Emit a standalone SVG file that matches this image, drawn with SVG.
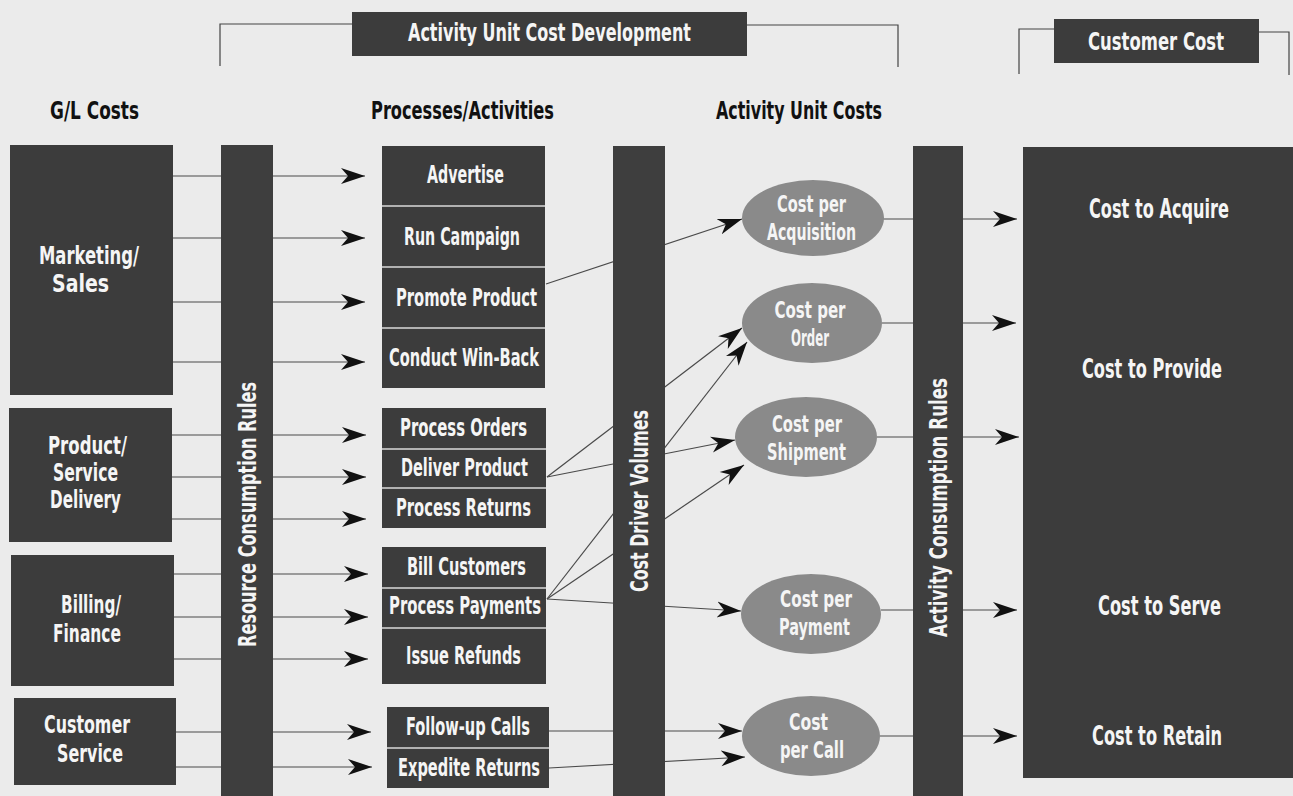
<svg xmlns="http://www.w3.org/2000/svg" width="1293" height="796" viewBox="0 0 1293 796">
<defs>
<style>
.bg{fill:#ebebeb}
.box{fill:#3c3c3c}
.bar{fill:#3e3e3e}
.ell{fill:#8a8a8a}
.sep{stroke:#d8d8d8;stroke-width:1.6}
.t{font-family:"Liberation Sans Narrow","DejaVu Sans Condensed","Liberation Sans",Arial,sans-serif;font-weight:bold;fill:#f5f5f5;text-anchor:middle}
.h{font-family:"Liberation Sans Narrow","DejaVu Sans Condensed","Liberation Sans",Arial,sans-serif;font-weight:bold;fill:#111;text-anchor:middle;font-size:24px}
.p{font-size:24px}
.c{font-size:26px}
.e{font-size:23px}
.ar{stroke:#4a4a4a;stroke-width:1.2;fill:none;marker-end:url(#ah)}
.br{stroke:#444;stroke-width:1.2;fill:none}
</style>
<marker id="ah" markerUnits="userSpaceOnUse" markerWidth="26" markerHeight="18" refX="24" refY="9" orient="auto" viewBox="0 0 26 18">
<path d="M0,1 L24,9 L0,17 L7,9 Z" fill="#111"/>
</marker>
</defs>
<rect class="bg" x="0" y="0" width="1293" height="796"/>

<g id="connectors">
<path class="ar" d="M173,176 H365"/>
<path class="ar" d="M173,238 H365"/>
<path class="ar" d="M173,302 H365"/>
<path class="ar" d="M173,362 H365"/>
<path class="ar" d="M172,435 H366"/>
<path class="ar" d="M172,477 H366"/>
<path class="ar" d="M172,519 H366"/>
<path class="ar" d="M174,574 H368"/>
<path class="ar" d="M174,617 H368"/>
<path class="ar" d="M174,659 H368"/>
<path class="ar" d="M176,732 H371"/>
<path class="ar" d="M176,767 H372"/>
<path class="ar" d="M546,284 L742,219"/>
<path class="ar" d="M547,477 L742,328"/>
<path class="ar" d="M547,477 L735,440"/>
<path class="ar" d="M547,599 L747,342"/>
<path class="ar" d="M547,599 L744,465"/>
<path class="ar" d="M547,599 L741,611"/>
<path class="ar" d="M549,731 L742,731"/>
<path class="ar" d="M549,768 L745,757"/>
<path class="ar" d="M883,219 H1017"/>
<path class="ar" d="M882,323 H1016"/>
<path class="ar" d="M877,437 H1019"/>
<path class="ar" d="M881,610 H1017"/>
<path class="ar" d="M880,736 H1017"/>
</g>

<g id="brackets">
<path class="br" d="M220,66 V24 H352"/>
<path class="br" d="M747,25 H898 V67"/>
<path class="br" d="M1019,74 V29 H1054"/>
<path class="br" d="M1259,32 H1289 V75"/>
</g>

<g id="banner-activity">
<rect class="box" x="352" y="12" width="395" height="44"/>
<text class="t" x="549.5" y="41" font-size="25" textLength="283" lengthAdjust="spacingAndGlyphs">Activity Unit Cost Development</text>
</g>
<g id="banner-customer">
<rect class="box" x="1054" y="19" width="205" height="44"/>
<text class="t" x="1156" y="50" font-size="25" textLength="136" lengthAdjust="spacingAndGlyphs">Customer Cost</text>
</g>

<g id="headers">
<text class="h" x="94.5" y="119" textLength="89" lengthAdjust="spacingAndGlyphs">G/L Costs</text>
<text class="h" x="462.5" y="119" textLength="183" lengthAdjust="spacingAndGlyphs">Processes/Activities</text>
<text class="h" x="799" y="119" textLength="166" lengthAdjust="spacingAndGlyphs">Activity Unit Costs</text>
</g>

<g id="gl-marketing">
<rect class="box" x="10" y="145" width="163" height="250"/>
<text class="t p" x="89" y="264" textLength="100" lengthAdjust="spacingAndGlyphs">Marketing/</text>
<text class="t p" x="80.5" y="292" textLength="57" lengthAdjust="spacingAndGlyphs">Sales</text>
</g>
<g id="gl-product">
<rect class="box" x="9" y="408" width="163" height="134"/>
<text class="t p" x="87.5" y="454" textLength="79" lengthAdjust="spacingAndGlyphs">Product/</text>
<text class="t p" x="85.5" y="481" textLength="65" lengthAdjust="spacingAndGlyphs">Service</text>
<text class="t p" x="85.5" y="508" textLength="71" lengthAdjust="spacingAndGlyphs">Delivery</text>
</g>
<g id="gl-billing">
<rect class="box" x="11" y="555" width="163" height="131"/>
<text class="t p" x="91" y="613" textLength="60" lengthAdjust="spacingAndGlyphs">Billing/</text>
<text class="t p" x="87" y="642" textLength="68" lengthAdjust="spacingAndGlyphs">Finance</text>
</g>
<g id="gl-customer-service">
<rect class="box" x="14" y="698" width="162" height="87"/>
<text class="t p" x="87" y="733" textLength="86" lengthAdjust="spacingAndGlyphs">Customer</text>
<text class="t p" x="90" y="762" textLength="66" lengthAdjust="spacingAndGlyphs">Service</text>
</g>

<g id="bar-resource">
<rect class="bar" x="221" y="145" width="52" height="651"/>
<text class="t" font-size="25" transform="translate(256 514.5) rotate(-90)" x="0" y="0" textLength="265" lengthAdjust="spacingAndGlyphs">Resource Consumption Rules</text>
</g>
<g id="bar-cost-driver">
<rect class="bar" x="613" y="146" width="52" height="650"/>
<text class="t" font-size="25" transform="translate(647.5 501) rotate(-90)" x="0" y="0" textLength="182" lengthAdjust="spacingAndGlyphs">Cost Driver Volumes</text>
</g>
<g id="bar-activity">
<rect class="bar" x="913" y="146" width="50" height="650"/>
<text class="t" font-size="25" transform="translate(946.5 507.5) rotate(-90)" x="0" y="0" textLength="259" lengthAdjust="spacingAndGlyphs">Activity Consumption Rules</text>
</g>

<g id="p-advertise"><rect class="box" x="382" y="146" width="163" height="60"/><text class="t p" x="465.5" y="183" textLength="77" lengthAdjust="spacingAndGlyphs">Advertise</text></g>
<g id="p-run-campaign"><rect class="box" x="382" y="206" width="163" height="61"/><text class="t p" x="462" y="245" textLength="116" lengthAdjust="spacingAndGlyphs">Run Campaign</text></g>
<g id="p-promote-product"><rect class="box" x="382" y="267" width="163" height="61"/><text class="t p" x="466.5" y="306" textLength="141" lengthAdjust="spacingAndGlyphs">Promote Product</text></g>
<g id="p-conduct-win-back"><rect class="box" x="382" y="328" width="163" height="60"/><text class="t p" x="464" y="366" textLength="150" lengthAdjust="spacingAndGlyphs">Conduct Win-Back</text></g>
<g id="p-process-orders"><rect class="box" x="382" y="408" width="164" height="41"/><text class="t p" x="463.5" y="436" textLength="127" lengthAdjust="spacingAndGlyphs">Process Orders</text></g>
<g id="p-deliver-product"><rect class="box" x="382" y="449" width="164" height="39"/><text class="t p" x="464.5" y="476" textLength="127" lengthAdjust="spacingAndGlyphs">Deliver Product</text></g>
<g id="p-process-returns"><rect class="box" x="382" y="488" width="164" height="40"/><text class="t p" x="463.5" y="516" textLength="135" lengthAdjust="spacingAndGlyphs">Process Returns</text></g>
<g id="p-bill-customers"><rect class="box" x="382" y="547" width="164" height="41"/><text class="t p" x="466.5" y="575" textLength="119" lengthAdjust="spacingAndGlyphs">Bill Customers</text></g>
<g id="p-process-payments"><rect class="box" x="382" y="588" width="164" height="40"/><text class="t p" x="465" y="614" textLength="152" lengthAdjust="spacingAndGlyphs">Process Payments</text></g>
<g id="p-issue-refunds"><rect class="box" x="382" y="628" width="164" height="56"/><text class="t p" x="463.5" y="664" textLength="115" lengthAdjust="spacingAndGlyphs">Issue Refunds</text></g>
<g id="p-follow-up-calls"><rect class="box" x="387" y="707" width="162" height="41"/><text class="t p" x="468" y="735" textLength="124" lengthAdjust="spacingAndGlyphs">Follow-up Calls</text></g>
<g id="p-expedite-returns"><rect class="box" x="387" y="748" width="162" height="40"/><text class="t p" x="469" y="776" textLength="142" lengthAdjust="spacingAndGlyphs">Expedite Returns</text></g>

<g id="separators">
<path class="sep" d="M382,206 H545 M382,267 H545 M382,328 H545 M382,449 H546 M382,488 H546 M382,588 H546 M382,628 H546 M387,748 H549 M1023,267 H1293 M1023,516 H1293 M1023,703 H1293"/>
</g>

<g id="u-acquisition"><ellipse class="ell" cx="813" cy="218" rx="71" ry="38"/><text class="t e" x="811.5" y="212" textLength="69" lengthAdjust="spacingAndGlyphs">Cost per</text><text class="t e" x="811.5" y="240" textLength="89" lengthAdjust="spacingAndGlyphs">Acquisition</text></g>
<g id="u-order"><ellipse class="ell" cx="812" cy="323" rx="70" ry="40"/><text class="t e" x="810" y="318" textLength="71" lengthAdjust="spacingAndGlyphs">Cost per</text><text class="t e" x="810" y="346" textLength="38" lengthAdjust="spacingAndGlyphs">Order</text></g>
<g id="u-shipment"><ellipse class="ell" cx="806" cy="437" rx="71" ry="40"/><text class="t e" x="807" y="432" textLength="70" lengthAdjust="spacingAndGlyphs">Cost per</text><text class="t e" x="806.5" y="460" textLength="79" lengthAdjust="spacingAndGlyphs">Shipment</text></g>
<g id="u-payment"><ellipse class="ell" cx="811" cy="614" rx="70" ry="40"/><text class="t e" x="816" y="607" textLength="72" lengthAdjust="spacingAndGlyphs">Cost per</text><text class="t e" x="814.5" y="635" textLength="71" lengthAdjust="spacingAndGlyphs">Payment</text></g>
<g id="u-call"><ellipse class="ell" cx="811" cy="736" rx="69" ry="40"/><text class="t e" x="808.5" y="730" textLength="39" lengthAdjust="spacingAndGlyphs">Cost</text><text class="t e" x="812" y="758" textLength="64" lengthAdjust="spacingAndGlyphs">per Call</text></g>

<g id="c-acquire"><rect class="box" x="1023" y="147" width="270" height="120"/><text class="t c" x="1159" y="218" textLength="140" lengthAdjust="spacingAndGlyphs">Cost to Acquire</text></g>
<g id="c-provide"><rect class="box" x="1023" y="267" width="270" height="249"/><text class="t c" x="1152" y="378" textLength="140" lengthAdjust="spacingAndGlyphs">Cost to Provide</text></g>
<g id="c-serve"><rect class="box" x="1023" y="516" width="270" height="187"/><text class="t c" x="1159.5" y="615" textLength="123" lengthAdjust="spacingAndGlyphs">Cost to Serve</text></g>
<g id="c-retain"><rect class="box" x="1023" y="703" width="270" height="75"/><text class="t c" x="1157" y="745" textLength="130" lengthAdjust="spacingAndGlyphs">Cost to Retain</text></g>
</svg>
